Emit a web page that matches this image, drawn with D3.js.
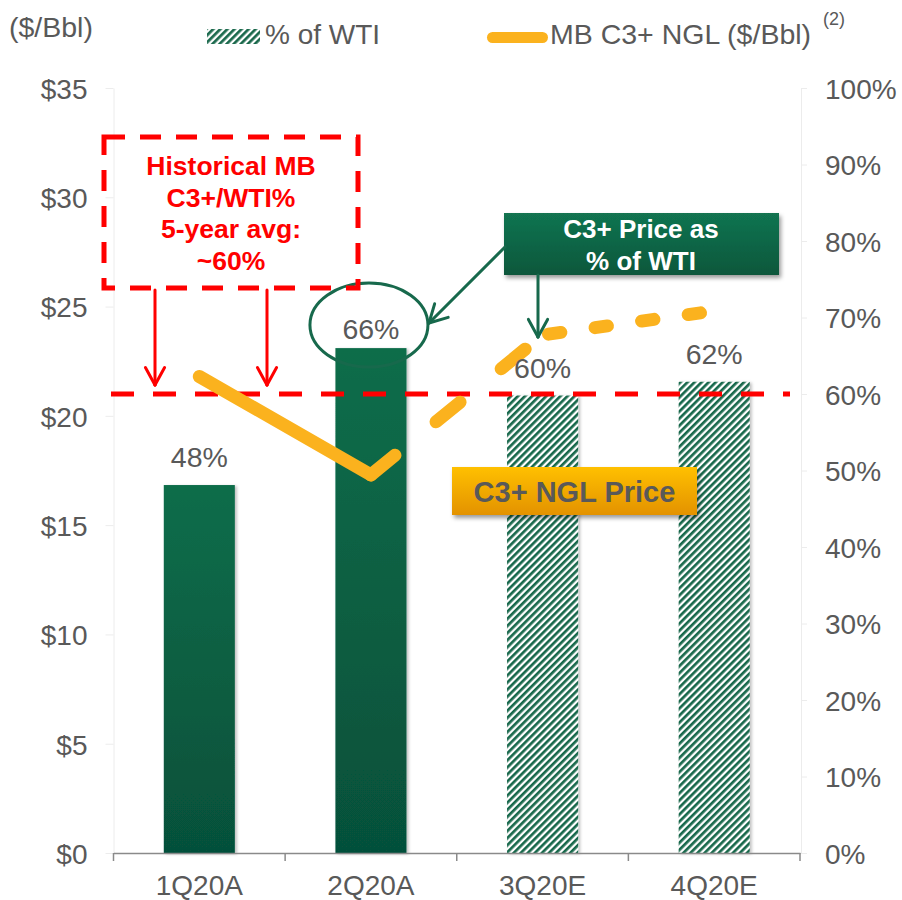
<!DOCTYPE html>
<html>
<head>
<meta charset="utf-8">
<script src="https://cdn.jsdelivr.net/npm/d3@7"></script>
<style>
  body { margin: 0; background: #fff; }
  svg { display: block; font-family: "Liberation Sans", Arial, sans-serif; }
</style>
</head>
<body>
<div id="chart"></div>
<script>
const categories = ["1Q20A", "2Q20A", "3Q20E", "4Q20E"];
const pctOfWti = [48.1, 66, 59.8, 61.6];   // bars, right axis
const nglPrice = [21.8, 17.3, 23.7, 24.8];  // line, left axis ($/Bbl)
const isActual = [true, true, false, false];
const priceTicks = [0, 5, 10, 15, 20, 25, 30, 35];
const pctTicks = [0, 10, 20, 30, 40, 50, 60, 70, 80, 90, 100];
const histAvgPct = 60;

const W = 902, H = 900;
const GREY = "#595959";
const GREEN = "#17694c";
const RED = "#ff0000";
const ORANGE = "#fbb21e";

const svg = d3.select("#chart").append("svg")
  .attr("width", W).attr("height", H);

const defs = svg.append("defs");

const barGrad = defs.append("linearGradient").attr("id", "barGrad")
  .attr("x1", 0).attr("y1", 0).attr("x2", 0).attr("y2", 1);
barGrad.append("stop").attr("offset", "0%").attr("stop-color", "#0c6d4a");
barGrad.append("stop").attr("offset", "100%").attr("stop-color", "#06503a");

const hatch = defs.append("pattern").attr("id", "hatch")
  .attr("patternUnits", "userSpaceOnUse")
  .attr("width", 5).attr("height", 5)
  .attr("patternTransform", "rotate(45)");
hatch.append("rect").attr("width", 5).attr("height", 5).attr("fill", "#fff");
hatch.append("rect").attr("width", 2.7).attr("height", 5).attr("fill", "#19684b");

const greenBoxGrad = defs.append("linearGradient").attr("id", "greenBox")
  .attr("x1", 0).attr("y1", 0).attr("x2", 0).attr("y2", 1);
greenBoxGrad.append("stop").attr("offset", "0%").attr("stop-color", "#127451");
greenBoxGrad.append("stop").attr("offset", "100%").attr("stop-color", "#0a573b");

const orangeBoxGrad = defs.append("linearGradient").attr("id", "orangeBox")
  .attr("x1", 0).attr("y1", 0).attr("x2", 0).attr("y2", 1);
orangeBoxGrad.append("stop").attr("offset", "0%").attr("stop-color", "#ffc000");
orangeBoxGrad.append("stop").attr("offset", "100%").attr("stop-color", "#e39200");

const shadow = defs.append("filter").attr("id", "shadow")
  .attr("x", "-10%").attr("y", "-10%").attr("width", "130%").attr("height", "140%");
shadow.append("feDropShadow").attr("dx", 2).attr("dy", 3)
  .attr("stdDeviation", 2).attr("flood-opacity", 0.4);

const barShadow = defs.append("filter").attr("id", "barShadow")
  .attr("x", "-10%").attr("y", "-5%").attr("width", "130%").attr("height", "110%");
barShadow.append("feDropShadow").attr("dx", 2).attr("dy", 1)
  .attr("stdDeviation", 1.5).attr("flood-opacity", 0.25);

// scales
const x = d3.scaleBand().domain(categories).range([113.5, 800]);
const y = d3.scaleLinear().domain([0, 35]).range([853, 88]);
const yPct = d3.scaleLinear().domain([0, 100]).range([853, 88]);
const barW = x.bandwidth() * 0.414;
const cx = c => x(c) + x.bandwidth() / 2;

// left axis
const leftAxis = svg.append("g")
  .attr("transform", `translate(${x.range()[0]},0)`)
  .call(d3.axisLeft(y).tickValues(priceTicks).tickFormat(d => "$" + d)
    .tickSize(8).tickSizeOuter(0).tickPadding(18));
leftAxis.select(".domain").attr("stroke", "#ececec");
leftAxis.selectAll(".tick line").attr("stroke", "#ececec");
leftAxis.selectAll("text").attr("font-size", 28).attr("fill", GREY)
  .attr("dy", "0.37em").attr("font-family", null);

// right axis
const rightAxis = svg.append("g")
  .attr("transform", `translate(801,0)`)
  .call(d3.axisRight(yPct).tickValues(pctTicks).tickFormat(d => d + "%")
    .tickSize(6).tickSizeOuter(0).tickPadding(18));
rightAxis.select(".domain").attr("stroke", "#ececec");
rightAxis.selectAll(".tick line").attr("stroke", "#ececec");
rightAxis.selectAll("text").attr("font-size", 28).attr("fill", GREY)
  .attr("dy", "0.37em").attr("font-family", null);

// bars
const data = categories.map((c, i) => ({
  cat: c, pct: pctOfWti[i], price: nglPrice[i], actual: isActual[i]
}));

svg.append("g").selectAll("rect")
  .data(data)
  .join("rect")
  .attr("x", d => cx(d.cat) - barW / 2)
  .attr("y", d => yPct(d.pct))
  .attr("width", barW)
  .attr("height", d => yPct(0) - yPct(d.pct))
  .attr("fill", d => d.actual ? "url(#barGrad)" : "url(#hatch)")
  .attr("filter", "url(#barShadow)");

// bottom axis
const bottomAxis = svg.append("g")
  .attr("transform", `translate(0,${y(0)})`)
  .call(d3.axisBottom(x).tickSize(0).tickSizeOuter(0).tickPadding(22));
bottomAxis.select(".domain").attr("stroke", "#8a8a8a").attr("stroke-width", 1.5);
bottomAxis.selectAll("text").attr("font-size", 28).attr("fill", GREY)
  .attr("font-family", null);
bottomAxis.selectAll(".boundary")
  .data(categories.map(c => x(c)).concat([x.range()[1]]))
  .join("line")
  .attr("x1", d => d).attr("x2", d => d)
  .attr("y1", 0).attr("y2", 8)
  .attr("stroke", "#8a8a8a").attr("stroke-width", 1.5);

// historical 60% line
svg.append("line")
  .attr("x1", 111).attr("x2", 790)
  .attr("y1", yPct(histAvgPct)).attr("y2", yPct(histAvgPct))
  .attr("stroke", RED).attr("stroke-width", 5)
  .attr("stroke-dasharray", "23,19");

// NGL price line
const pts = data.map(d => [cx(d.cat), y(d.price)]);
const line = d3.line();
svg.append("path")
  .attr("d", line([pts[0], pts[1]]))
  .attr("fill", "none").attr("stroke", ORANGE)
  .attr("stroke-width", 13).attr("stroke-linecap", "round");
svg.append("path")
  .attr("d", line([pts[1], pts[2]]))
  .attr("fill", "none").attr("stroke", ORANGE)
  .attr("stroke-width", 13).attr("stroke-linecap", "round")
  .attr("stroke-dasharray", "31,53");
svg.append("path")
  .attr("d", line([pts[2], pts[3]]))
  .attr("fill", "none").attr("stroke", ORANGE)
  .attr("stroke-width", 13).attr("stroke-linecap", "round")
  .attr("stroke-dasharray", "12.5,34.5").attr("stroke-dashoffset", -6);

// bar value labels
svg.append("g").selectAll("text")
  .data(data)
  .join("text")
  .attr("x", d => cx(d.cat))
  .attr("y", (d, i) => yPct(d.pct) - (i === 1 ? 9 : 18))
  .attr("text-anchor", "middle")
  .attr("font-size", 28.5).attr("fill", GREY)
  .text(d => Math.round(d.pct) + "%");

// ellipse around 2Q20A label
svg.append("ellipse")
  .attr("cx", cx(categories[1]) - 2).attr("cy", 325)
  .attr("rx", 59).attr("ry", 42)
  .attr("fill", "none").attr("stroke", GREEN).attr("stroke-width", 3);

function arrow(x1, y1, x2, y2, color, width) {
  const g = svg.append("g").attr("stroke", color).attr("stroke-width", width)
    .attr("fill", "none").attr("stroke-linecap", "round");
  g.append("line").attr("x1", x1).attr("y1", y1).attr("x2", x2).attr("y2", y2);
  const a = Math.atan2(y2 - y1, x2 - x1);
  const len = 20, spread = 0.5;
  [a + Math.PI - spread, a + Math.PI + spread].forEach(t => {
    g.append("line").attr("x1", x2).attr("y1", y2)
      .attr("x2", x2 + len * Math.cos(t)).attr("y2", y2 + len * Math.sin(t));
  });
}

// red historical box
svg.append("rect")
  .attr("x", 104).attr("y", 137).attr("width", 254).attr("height", 151)
  .attr("fill", "none").attr("stroke", RED).attr("stroke-width", 5)
  .attr("stroke-dasharray", "21,15");
const histLines = ["Historical MB", "C3+/WTI%", "5-year avg:", "~60%"];
svg.append("g").selectAll("text")
  .data(histLines)
  .join("text")
  .attr("x", 231).attr("y", (d, i) => 175 + i * 31.7)
  .attr("text-anchor", "middle").attr("font-size", 26.5)
  .attr("font-weight", "bold").attr("fill", RED)
  .text(d => d);
arrow(155, 290, 155, yPct(histAvgPct) - 9, RED, 3);
arrow(267, 290, 267, yPct(histAvgPct) - 9, RED, 3);

// green callout
svg.append("rect")
  .attr("x", 504).attr("y", 213).attr("width", 275).attr("height", 62)
  .attr("fill", "url(#greenBox)").attr("filter", "url(#shadow)");
svg.append("g").selectAll("text")
  .data(["C3+ Price as", "% of WTI"])
  .join("text")
  .attr("x", 641).attr("y", (d, i) => 238 + i * 32)
  .attr("text-anchor", "middle").attr("font-size", 26)
  .attr("font-weight", "bold").attr("fill", "#fff")
  .text(d => d);
arrow(505, 247, 429, 323, GREEN, 3);
arrow(538, 275, 538, pts[2][1] + 2, GREEN, 3);

// orange callout
svg.append("rect")
  .attr("x", 452).attr("y", 467).attr("width", 245).attr("height", 48)
  .attr("fill", "url(#orangeBox)").attr("filter", "url(#shadow)");
svg.append("text")
  .attr("x", 574.5).attr("y", 502)
  .attr("text-anchor", "middle").attr("font-size", 29)
  .attr("font-weight", "bold").attr("fill", GREY)
  .text("C3+ NGL Price");

// axis unit + legend
svg.append("text").attr("x", 9).attr("y", 37)
  .attr("font-size", 28.5).attr("fill", GREY).text("($/Bbl)");

svg.append("rect").attr("x", 207).attr("y", 29).attr("width", 53).attr("height", 15)
  .attr("fill", "url(#hatch)");
svg.append("text").attr("x", 265).attr("y", 44)
  .attr("font-size", 28).attr("fill", GREY).text("% of WTI");

svg.append("line").attr("x1", 492.5).attr("x2", 542.5)
  .attr("y1", 37.5).attr("y2", 37.5)
  .attr("stroke", ORANGE).attr("stroke-width", 11).attr("stroke-linecap", "round");
svg.append("text").attr("x", 550).attr("y", 44)
  .attr("font-size", 28.5).attr("fill", GREY).text("MB C3+ NGL ($/Bbl)");
svg.append("text").attr("x", 823).attr("y", 25)
  .attr("font-size", 18).attr("fill", GREY).text("(2)");
</script>
</body>
</html>
